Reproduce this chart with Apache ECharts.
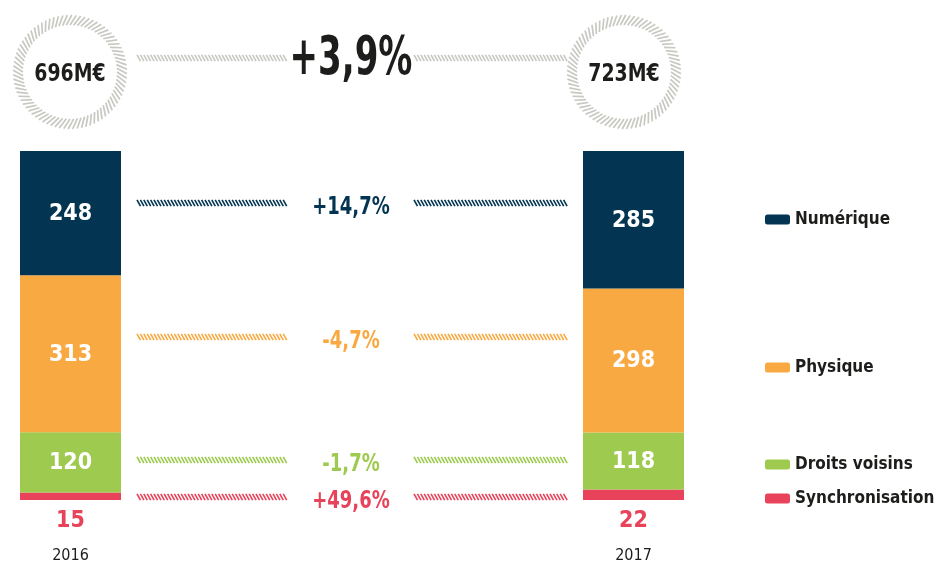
<!DOCTYPE html>
<html>
<head>
<meta charset="utf-8">
<script src="https://cdn.jsdelivr.net/npm/echarts@6/dist/echarts.min.js"></script>
<style>html,body{margin:0;padding:0;background:#fff}#c{width:936px;height:567px}</style>
</head>
<body>
<div id="c"></div>
<script>
var years = ['2016', '2017'];
var totals = [696, 723];
var totalLabels = ['696M€', '723M€'];
var totalChange = '+3,9%';
var categories = ['Numérique', 'Physique', 'Droits voisins', 'Synchronisation'];
var values2016 = [248, 313, 120, 15];
var values2017 = [285, 298, 118, 22];
var changes = ['+14,7%', '-4,7%', '-1,7%', '+49,6%'];

var colors = ['#033552', '#F9A942', '#9DCA4F', '#E8435A'];
var FONT = '"Liberation Sans Narrow", "DejaVu Sans Condensed", sans-serif';

var chart = echarts.init(document.getElementById('c'));

var grids = [
  {left: 20, top: 151, width: 101, height: 349},
  {left: 583, top: 151, width: 101, height: 349}
];
var valuesByYear = [values2016, values2017];

var series = [];
for (var g = 0; g < 2; g++) {
  for (var i = categories.length - 1; i >= 0; i--) {
    var isSync = i === 3;
    series.push({
      type: 'bar',
      name: categories[i],
      xAxisIndex: g, yAxisIndex: g,
      stack: 's' + g,
      barWidth: '100%',
      data: [valuesByYear[g][i]],
      itemStyle: {color: colors[i]},
      label: {
        show: true,
        position: isSync ? 'bottom' : 'inside',
        distance: 10,
        offset: isSync ? [0, 0] : [0, 1],
        color: isSync ? colors[i] : '#fff',
        fontFamily: FONT, fontWeight: 'bold', fontSize: 23
      }
    });
  }
}

// decorations
var graphics = [];
function hatch(x0, x1, y, color) {
  for (var x = x0; x <= x1 - 3; x += 3.4) {
    graphics.push({type: 'line', silent: true,
      shape: {x1: x, y1: y - 3.2, x2: x + 3.5, y2: y + 3.2},
      style: {stroke: color, lineWidth: 1.6}});
  }
}
function ring(cx, cy, rIn, rOut, color) {
  var n = 80;
  for (var k = 0; k < n; k++) {
    var a = k / n * Math.PI * 2;
    var a2 = a + 0.11;
    graphics.push({type: 'line', silent: true,
      shape: {x1: cx + rIn * Math.cos(a), y1: cy + rIn * Math.sin(a),
              x2: cx + rOut * Math.cos(a2), y2: cy + rOut * Math.sin(a2)},
      style: {stroke: color, lineWidth: 1.7}});
  }
}
var grey = '#c8c8c2';
ring(70, 72, 47, 57, grey);
ring(624, 72, 47, 57, grey);
hatch(137, 289, 58, grey);
hatch(414, 567, 58, grey);
var hatchY = [203, 337, 460, 497];
function txt(x, y, s, color, font, sx) {
  graphics.push({type: 'text', x: x, y: y, scaleX: sx, silent: true,
    style: {text: s, fill: color, font: font, align: 'center', verticalAlign: 'middle'}});
}
for (var h = 0; h < 4; h++) {
  hatch(137, 289, hatchY[h], colors[h]);
  hatch(414, 567, hatchY[h], colors[h]);
  txt(351, hatchY[h] + 4, changes[h], colors[h], 'bold 25px ' + FONT, 0.8);
}
txt(351, 60, totalChange, '#1d1d1b', 'bold 54px ' + FONT, 0.7);
txt(70, 74, totalLabels[0], '#1d1d1b', 'bold 25px ' + FONT, 0.84);
txt(624, 74, totalLabels[1], '#1d1d1b', 'bold 25px ' + FONT, 0.84);

var legendY = [218, 366, 463, 497];
var legends = categories.map(function (c, i) {
  return {
    data: [c], left: 765, top: legendY[i] - 7, padding: 0,
    icon: 'roundRect', itemWidth: 25, itemHeight: 10, itemGap: 7,
    selectedMode: false,
    textStyle: {fontFamily: FONT, fontWeight: 'bold', fontSize: 17, color: '#1d1d1b'}
  };
});

chart.setOption({
  animation: false,
  grid: grids,
  xAxis: [0, 1].map(function (g) {
    return {type: 'category', gridIndex: g, data: [years[g]],
      axisLine: {show: false}, axisTick: {show: false},
      axisLabel: {margin: 48, color: '#1d1d1b', fontSize: 16, fontFamily: FONT}};
  }),
  yAxis: [0, 1].map(function (g) {
    return {type: 'value', gridIndex: g, min: 0, max: totals[g], show: false, splitLine: {show: false}};
  }),
  legend: legends,
  series: series,
  graphic: graphics
});
</script>
</body>
</html>
